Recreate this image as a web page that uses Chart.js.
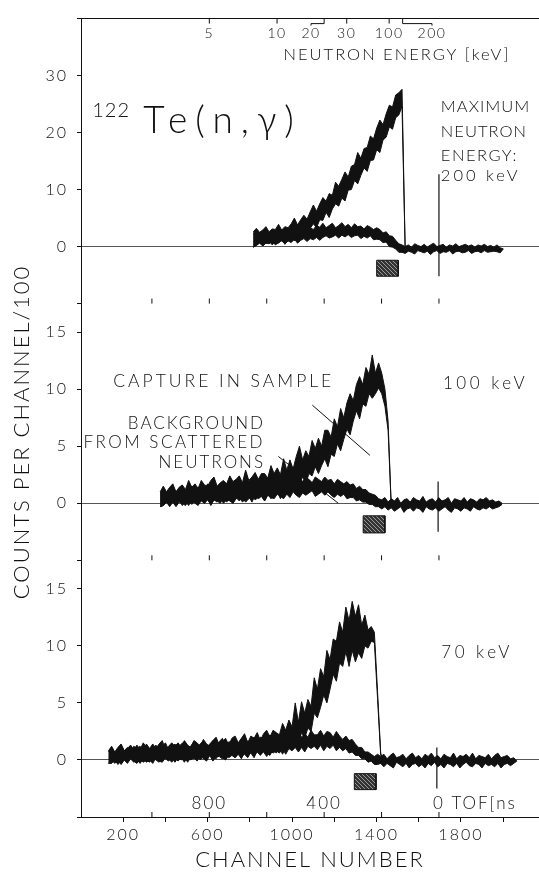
<!DOCTYPE html>
<html>
<head>
<meta charset="utf-8">
<script src="https://cdn.jsdelivr.net/npm/chart.js@4.4.1/dist/chart.umd.min.js"></script>
<style>
  html, body { margin: 0; padding: 0; background: #fff; }
  canvas { display: block; }
</style>
</head>
<body>
<canvas id="chart" width="539" height="873"></canvas>
<script>
// channel width of one stored bin; each bin keeps the top and bottom edge of the noisy band
var BIN = 15;

// 200 keV run
var topStart = 816;
var topSampleHi = [2.6, 3.2, 2.5, 2.9, 3.5, 2.6, 3.1, 3.0, 3.9, 2.9, 3.5, 3.3, 4.0, 5.0, 3.8, 4.7, 5.5, 4.8, 6.1, 7.3,
  6.2, 7.5, 8.6, 8.0, 9.3, 9.0, 11.3, 10.6, 11.8, 13.1, 12.2, 14.1, 14.4, 16.5, 15.5, 17.2, 17.4, 19.4, 18.9, 20.8,
  22.2, 21.4, 23.3, 24.8, 24.5, 26.6, 27.0, 27.6, -0.7];
var topSampleLo = [-0.1, 0.2, 0.7, 0.1, 0.6, 1.0, 0.3, 0.9, 0.6, 1.3, 0.4, 1.1, 1.6, 1.0, 2.0, 1.8, 2.9, 2.0, 3.2, 4.0,
  3.3, 4.7, 4.6, 6.0, 5.1, 6.6, 7.5, 7.1, 8.5, 8.0, 9.9, 10.0, 11.6, 11.0, 12.5, 13.8, 13.2, 15.1, 15.2, 17.0,
  16.5, 18.7, 19.2, 21.0, 20.6, 22.6, 23.1, 24.6, -0.7];
var topBackHi = [2.3, 2.8, 2.2, 2.6, 3.0, 2.3, 2.8, 2.7, 3.3, 2.6, 2.9, 3.2, 2.6, 3.5, 3.0, 3.3, 2.9, 3.8, 3.3, 3.0,
  3.7, 3.4, 4.1, 3.3, 3.7, 4.1, 3.3, 3.7, 4.2, 3.5, 3.9, 3.3, 4.0, 3.5, 3.6, 3.1, 3.7, 3.4, 3.0, 3.3,
  3.0, 2.4, 2.6, 1.9, 1.8, 1.1, 0.5, 0.3, 0.0, 0.3, -0.1, 0.5, 0.2, 0.0, 0.4, -0.1, 0.3, 0.6, 0.0, 0.2,
  0.4, -0.1, 0.3, 0.1, 0.5, 0.0, 0.2, 0.4, 0.1, 0.3, -0.1, 0.3, 0.1, 0.4, 0.0, 0.2, -0.1, 0.3, -0.2, -0.4];
var topBackLo = [-0.1, 0.2, 0.6, 0.2, 0.6, 0.5, 0.9, 0.3, 0.7, 1.0, 0.5, 1.0, 0.7, 1.3, 0.6, 1.1, 1.4, 0.9, 1.4, 1.2,
  1.6, 1.1, 1.6, 1.9, 1.5, 1.7, 2.0, 1.5, 2.0, 1.7, 2.1, 1.6, 1.9, 2.0, 1.4, 1.8, 1.5, 1.9, 1.2, 1.3,
  1.2, 0.7, 0.8, 0.0, -0.1, -0.4, -1.0, -1.0, -1.2, -0.8, -1.0, -1.3, -0.7, -0.9, -1.1, -0.8, -1.4, -0.9, -0.7, -1.2,
  -0.9, -1.0, -0.7, -1.3, -0.9, -0.8, -1.1, -1.0, -0.7, -1.2, -0.9, -0.8, -1.1, -0.7, -1.0, -0.9, -0.8, -0.9, -1.1, -0.4];

// 100 keV run
var midStart = 375;
var midSampleHi = [1.0, 1.5, 1.0, 1.4, 1.7, 1.0, 1.4, 1.6, 1.2, 2.0, 1.4, 1.7, 1.3, 2.0, 1.6, 1.5, 2.0, 2.3, 1.5, 1.8,
  2.0, 1.7, 2.4, 1.9, 2.1, 2.4, 1.8, 2.9, 2.0, 2.3, 2.7, 2.1, 2.6, 2.6, 2.2, 3.3, 2.6, 3.1, 2.5, 3.9,
  2.9, 3.8, 3.0, 4.1, 5.0, 3.8, 4.6, 4.1, 5.5, 4.8, 5.7, 5.0, 6.4, 6.4, 5.8, 7.4, 6.7, 8.3, 7.5, 8.8,
  9.6, 9.0, 10.4, 11.1, 10.4, 11.9, 11.3, 13.0, 11.4, 12.3, 11.4, 10.0, 7.2, -0.3];
var midSampleLo = [-0.3, -0.2, 0.1, -0.3, 0.1, -0.1, 0.3, -0.2, 0.2, -0.2, 0.3, 0.0, -0.2, 0.3, 0.0, 0.4, -0.2, 0.3, 0.2, 0.0,
  0.5, 0.1, 0.4, 0.0, 0.4, 0.6, 0.1, 0.4, 0.6, 0.1, 0.7, 0.4, 0.6, 0.2, 0.8, 0.4, 0.7, 1.0, 0.4, 1.1,
  0.8, 1.2, 1.8, 1.2, 1.7, 2.3, 1.7, 2.6, 2.4, 3.2, 2.6, 3.3, 3.9, 3.2, 4.3, 4.1, 5.2, 4.6, 5.6, 6.5,
  6.0, 7.2, 8.1, 7.4, 8.7, 8.5, 9.6, 9.2, 9.6, 10.1, 9.6, 8.5, 6.4, -0.3];
var midBackHi = [0.9, 1.2, 0.9, 1.2, 1.4, 1.0, 1.2, 1.4, 1.0, 1.3, 1.5, 1.1, 1.3, 1.5, 1.2, 1.7, 1.2, 1.4, 1.5, 1.1,
  1.6, 1.5, 1.3, 1.8, 1.4, 1.6, 1.8, 1.3, 1.7, 1.9, 1.5, 1.7, 2.0, 1.6, 1.9, 1.7, 2.0, 1.6, 1.9, 2.1,
  1.8, 2.2, 1.7, 2.0, 2.3, 1.9, 2.2, 2.1, 1.8, 2.3, 2.1, 1.9, 2.3, 2.0, 2.1, 1.7, 2.1, 1.9, 1.7, 1.9,
  1.6, 1.7, 1.3, 1.5, 1.2, 1.2, 0.9, 0.8, 0.7, 0.4, 0.3, 0.5, 0.1, 0.4, 0.2, 0.5, 0.0, 0.3, 0.4, 0.1,
  0.5, 0.3, 0.2, 0.6, 0.1, 0.3, 0.4, 0.1, 0.5, 0.2, 0.3, 0.5, 0.0, 0.4, 0.3, 0.2, 0.5, 0.1, 0.4, 0.3,
  0.1, 0.4, 0.3, 0.5, 0.2, 0.3, 0.1, 0.2, 0.0];
var midBackLo = [-0.3, -0.2, 0.1, -0.2, 0.1, -0.3, 0.1, 0.0, -0.2, 0.2, -0.1, 0.2, -0.1, 0.2, 0.0, 0.3, -0.1, 0.3, 0.1, 0.4,
  0.0, 0.3, 0.2, 0.0, 0.5, 0.2, 0.5, 0.1, 0.4, 0.6, 0.3, 0.5, 0.7, 0.2, 0.7, 0.5, 0.4, 0.8, 0.6, 0.4,
  0.8, 0.5, 1.0, 0.7, 0.5, 0.9, 0.7, 0.9, 1.1, 0.6, 0.8, 1.0, 0.7, 1.0, 0.7, 0.5, 0.8, 0.6, 0.8, 0.4,
  0.5, 0.5, 0.2, 0.3, 0.1, 0.1, -0.1, -0.1, -0.3, -0.3, -0.5, -0.3, -0.6, -0.4, -0.7, -0.5, -0.3, -0.8, -0.5, -0.4,
  -0.7, -0.4, -0.5, -0.8, -0.3, -0.5, -0.6, -0.4, -0.7, -0.5, -0.3, -0.6, -0.8, -0.4, -0.5, -0.7, -0.4, -0.5, -0.7, -0.3,
  -0.5, -0.6, -0.4, -0.5, -0.3, -0.5, -0.4, -0.3, -0.1];

// 70 keV run
var botStart = 130;
var botSampleHi = [0.8, 1.2, 0.7, 1.1, 1.4, 0.8, 1.0, 1.3, 0.9, 1.3, 0.9, 1.5, 1.1, 1.0, 1.4, 1.0, 1.4, 1.7, 0.9, 1.2,
  1.5, 1.2, 1.5, 1.1, 1.7, 1.3, 1.1, 1.7, 1.5, 1.2, 1.8, 1.4, 1.2, 1.7, 2.0, 1.3, 1.6, 1.9, 1.3, 1.9,
  2.1, 1.5, 1.9, 2.3, 1.5, 2.1, 1.9, 2.4, 1.7, 2.3, 2.6, 2.0, 2.6, 2.4, 2.2, 3.2, 2.6, 3.5, 2.9, 5.0,
  3.3, 5.1, 4.1, 5.3, 4.7, 7.2, 6.2, 8.0, 7.3, 9.6, 8.8, 10.6, 10.4, 12.1, 11.2, 13.4, 12.2, 13.9, 12.6, 13.6,
  11.8, 12.7, 11.4, 11.7, 11.2, 6.0, 0.6, -0.3];
var botSampleLo = [-0.3, 0.0, -0.3, 0.0, -0.4, 0.0, -0.2, 0.2, -0.1, -0.3, 0.1, -0.2, 0.0, -0.2, 0.2, 0.0, -0.2, 0.2, 0.1, -0.1,
  0.2, -0.2, 0.2, 0.0, 0.3, -0.2, 0.2, 0.1, 0.3, 0.0, 0.3, 0.1, 0.4, -0.1, 0.3, 0.3, 0.1, 0.5, 0.2, 0.4,
  0.2, 0.6, 0.3, 0.5, 0.2, 0.7, 0.4, 0.7, 0.4, 0.8, 0.6, 0.4, 0.9, 0.6, 1.1, 0.5, 1.1, 1.1, 0.9, 1.8,
  1.4, 2.4, 1.9, 2.8, 2.5, 4.1, 3.7, 4.6, 5.7, 5.0, 6.2, 7.5, 6.9, 8.5, 8.2, 9.5, 8.2, 9.6, 8.6, 9.4,
  8.9, 10.0, 9.8, 10.4, 10.3, 5.4, 0.4, -0.3];
var botBackHi = [0.7, 1.1, 0.6, 1.0, 1.3, 0.8, 1.1, 0.7, 1.2, 1.0, 1.2, 0.8, 1.4, 1.0, 0.9, 1.3, 0.9, 1.2, 1.5, 0.9,
  1.1, 1.4, 1.0, 1.4, 1.6, 1.1, 1.2, 1.6, 1.1, 1.4, 1.7, 1.1, 1.4, 1.7, 1.3, 1.6, 1.9, 1.3, 1.6, 1.5,
  1.9, 1.4, 1.8, 2.0, 1.6, 1.7, 2.0, 1.5, 2.0, 1.9, 1.6, 2.2, 1.9, 1.8, 2.2, 1.7, 2.2, 2.4, 1.8, 2.0,
  2.4, 2.0, 2.3, 2.0, 2.6, 2.2, 2.2, 2.6, 2.1, 2.5, 2.4, 2.0, 2.5, 2.1, 1.8, 2.1, 1.7, 1.8, 1.4, 1.1,
  1.1, 0.7, 0.7, 0.5, 0.3, 0.5, 0.3, 0.5, 0.1, 0.4, 0.6, 0.2, 0.3, 0.5, 0.1, 0.4, 0.6, 0.2, 0.4, 0.1,
  0.5, 0.3, 0.6, 0.2, 0.4, 0.1, 0.5, 0.3, 0.2, 0.6, 0.1, 0.4, 0.3, 0.5, 0.2, 0.6, 0.1, 0.4, 0.3, 0.2,
  0.5, 0.1, 0.4, 0.6, 0.2, 0.3, 0.4, 0.1, 0.2, -0.1];
var botBackLo = [-0.3, -0.3, 0.0, -0.4, -0.1, 0.0, -0.3, 0.1, -0.2, 0.0, -0.3, 0.1, -0.2, 0.0, -0.3, 0.2, -0.1, -0.2, 0.2, 0.1,
  -0.2, 0.2, -0.1, 0.2, -0.2, 0.3, 0.0, 0.2, -0.1, 0.4, 0.1, -0.1, 0.4, 0.3, 0.1, 0.5, 0.2, 0.0, 0.4, 0.6,
  0.2, 0.5, 0.1, 0.7, 0.4, 0.6, 0.2, 0.8, 0.5, 0.7, 0.3, 0.9, 0.6, 0.8, 0.6, 1.0, 0.5, 1.0, 0.8, 1.1,
  0.7, 1.1, 0.7, 1.2, 1.0, 1.2, 0.9, 1.3, 0.8, 1.2, 1.0, 1.3, 0.8, 1.1, 0.8, 1.0, 0.6, 0.7, 0.4, 0.4,
  0.1, 0.1, -0.2, -0.1, -0.4, -0.4, -0.3, -0.6, -0.3, -0.5, -0.7, -0.2, -0.4, -0.6, -0.3, -0.7, -0.4, -0.3, -0.6, -0.4,
  -0.7, -0.3, -0.5, -0.2, -0.6, -0.4, -0.7, -0.3, -0.4, -0.6, -0.3, -0.7, -0.4, -0.2, -0.5, -0.6, -0.3, -0.4, -0.7, -0.3,
  -0.5, -0.4, -0.6, -0.3, -0.7, -0.4, -0.3, -0.5, -0.3, -0.1];

// gamma flash at zero flight time, one per run (top, middle, bottom)
var flashCh = [1696, 1692, 1686];
var flashHigh = [12.7, 1.9, 1.1];
var flashLow = [-5.2, -2.5, -2.5];

// shaded sample-position markers
var markFrom = [1401, 1337, 1295];
var markTo = [1503, 1440, 1398];
var markHigh = [-2.4, -1.1, -1.2];
var markLow = [-5.2, -2.6, -2.6];

// axes
var channelTicks = [200, 400, 600, 800, 1000, 1200, 1400, 1600, 1800, 2000];
var energyLabels = ['5', '10', '20', '30', '100', '200'];
var energyCh = [608, 929, 1152, 1259, 1460, 1524];
var tofNs = [0, 200, 400, 600, 800, 1000];
var tofCh = [1696, 1424, 1152, 880, 608, 336];

var panels = ['yTop', 'yMid', 'yBot'];
var FONT = 'Lato, "DejaVu Sans", sans-serif';
var INK = '#111';

function series(start, values) {
    return values.map(function (v, i) { return { x: start + BIN * i, y: v }; });
}

function trace(data, axis) {
    return { data: data, yAxisID: axis, borderColor: INK, borderWidth: 1,
        pointRadius: 0, tension: 0, fill: false };
}

// upper edge filled down to the lower edge, so the noise reads as a solid band
function band(start, hi, lo, axis) {
    var upper = trace(series(start, hi), axis);
    upper.fill = '+1';
    upper.backgroundColor = INK;
    return [upper, trace(series(start, lo), axis)];
}

function makeHatch() {
    var c = document.createElement('canvas');
    c.width = 4; c.height = 4;
    var g = c.getContext('2d');
    g.fillStyle = '#333';
    g.fillRect(0, 0, 4, 4);
    g.strokeStyle = '#9a9a9a';
    g.lineWidth = 1;
    g.beginPath();
    g.moveTo(0, 0); g.lineTo(4, 4);
    g.stroke();
    return g.createPattern(c, 'repeat');
}

var hatch = makeHatch();

var datasets = [].concat(
    band(topStart, topSampleHi, topSampleLo, 'yTop'),
    band(topStart, topBackHi, topBackLo, 'yTop'),
    band(midStart, midSampleHi, midSampleLo, 'yMid'),
    band(midStart, midBackHi, midBackLo, 'yMid'),
    band(botStart, botSampleHi, botSampleLo, 'yBot'),
    band(botStart, botBackHi, botBackLo, 'yBot')
);

panels.forEach(function (axis, i) {
    var flash = trace([{ x: flashCh[i], y: flashLow[i] }, { x: flashCh[i], y: flashHigh[i] }], axis);
    flash.borderWidth = 1.2;
    datasets.push(flash);

    var box = trace([
        { x: markFrom[i], y: markLow[i] }, { x: markFrom[i], y: markHigh[i] },
        { x: markTo[i], y: markHigh[i] }, { x: markTo[i], y: markLow[i] },
        { x: markFrom[i], y: markLow[i] }
    ], axis);
    box.fill = 'shape';
    box.backgroundColor = hatch;
    datasets.push(box);
});

// text placed in data coordinates of each panel
var notes = [
    { axis: 'yTop', x: 53, y: 22.8, text: '122', size: 20, spacing: 1 },
    { axis: 'yTop', x: 295, y: 20.0, text: 'Te(n,\u03b3)', size: 37, spacing: 8 },
    { axis: 'yTop', x: 1705, y: 23.7, text: 'MAXIMUM', size: 16.5, spacing: 1 },
    { axis: 'yTop', x: 1705, y: 19.3, text: 'NEUTRON', size: 16.5, spacing: 1 },
    { axis: 'yTop', x: 1705, y: 15.0, text: 'ENERGY:', size: 16.5, spacing: 1.5 },
    { axis: 'yTop', x: 1705, y: 11.5, text: '200 keV', size: 16.5, spacing: 3 },
    { axis: 'yTop', x: 1497, y: 32.75, text: 'NEUTRON ENERGY [keV]', size: 16.5, align: 'center' },
    { axis: 'yMid', x: 153, y: 10.2, text: 'CAPTURE IN SAMPLE', size: 17.5, spacing: 3 },
    { axis: 'yMid', x: 872, y: 6.5, text: 'BACKGROUND', size: 17, align: 'right' },
    { axis: 'yMid', x: 872, y: 4.8, text: 'FROM SCATTERED', size: 17, align: 'right', spacing: 2.5 },
    { axis: 'yMid', x: 872, y: 3.1, text: 'NEUTRONS', size: 17, align: 'right' },
    { axis: 'yMid', x: 1715, y: 10.0, text: '100 keV', size: 17, spacing: 3.5 },
    { axis: 'yBot', x: 1707, y: 8.9, text: '70 keV', size: 17, spacing: 3.5 }
];

var pointers = [
    { axis: 'yMid', from: [1096, 8.6], to: [1369, 4.2] },
    { axis: 'yMid', from: [935, 4.1], to: [1219, 0.0] }
];

var decorations = {
    id: 'decorations',
    beforeDraw: function (chart) {
        chart.ctx.letterSpacing = '2px';
    },
    afterDatasetsDraw: function (chart) {
        var ctx = chart.ctx;
        var sx = chart.scales.x;
        var area = chart.chartArea;
        ctx.save();
        ctx.fillStyle = INK;
        ctx.strokeStyle = INK;
        ctx.lineWidth = 1;

        notes.forEach(function (n) {
            ctx.font = '300 ' + n.size + 'px ' + FONT;
            ctx.letterSpacing = (n.spacing === undefined ? 2 : n.spacing) + 'px';
            ctx.textAlign = n.align || 'left';
            ctx.textBaseline = 'alphabetic';
            ctx.fillText(n.text, sx.getPixelForValue(n.x), chart.scales[n.axis].getPixelForValue(n.y));
        });

        pointers.forEach(function (p) {
            var sy = chart.scales[p.axis];
            ctx.beginPath();
            ctx.moveTo(sx.getPixelForValue(p.from[0]), sy.getPixelForValue(p.from[1]));
            ctx.lineTo(sx.getPixelForValue(p.to[0]), sy.getPixelForValue(p.to[1]));
            ctx.stroke();
        });

        // neutron energy scale hanging from the top frame
        var top = area.top;
        var shift = [0, 0, -62, 0, 0, 139];
        ctx.font = '300 14px ' + FONT;
        ctx.letterSpacing = '1.5px';
        ctx.textAlign = 'center';
        energyCh.forEach(function (ch, i) {
            var xt = sx.getPixelForValue(ch);
            var xl = sx.getPixelForValue(ch + shift[i]);
            ctx.beginPath();
            ctx.moveTo(xt, top);
            ctx.lineTo(xt, top + 5);
            if (shift[i]) {
                ctx.lineTo(xl, top + 5);
                ctx.lineTo(xl, top + 7);
            }
            ctx.stroke();
            ctx.fillText(energyLabels[i], xl, chart.scales.yTop.getPixelForValue(36.6));
        });

        // time-of-flight ticks on every panel floor, labels in the bottom panel
        var floors = [chart.scales.yTop.bottom, chart.scales.yMid.bottom, area.bottom];
        tofCh.forEach(function (ch) {
            var xt = sx.getPixelForValue(ch);
            floors.forEach(function (y) {
                ctx.beginPath();
                ctx.moveTo(xt, y);
                ctx.lineTo(xt, y - 5);
                ctx.stroke();
            });
        });
        ctx.font = '300 17px ' + FONT;
        ctx.letterSpacing = '2px';
        var yl = chart.scales.yBot.getPixelForValue(-4.3);
        tofNs.forEach(function (ns, i) {
            if (ns % 400 !== 0) return;
            var xt = sx.getPixelForValue(tofCh[i]);
            if (ns === 0) {
                ctx.textAlign = 'left';
                ctx.fillText('0 TOF[ns', xt - 6, yl);
            } else {
                ctx.textAlign = 'center';
                ctx.fillText(String(ns), xt, yl);
            }
        });
        ctx.restore();
    }
};

function panelAxis(min, max, step, labelEvery, weight) {
    return {
        type: 'linear',
        position: 'left',
        stack: 'panels',
        stackWeight: weight,
        min: min,
        max: max,
        border: { display: true, color: INK, width: 1 },
        grid: {
            drawOnChartArea: true,
            drawTicks: true,
            tickLength: 4,
            tickColor: INK,
            color: function (c) {
                if (c.tick.value === 0) return '#555';
                if (c.tick.value === max) return INK;
                return 'rgba(0,0,0,0)';
            }
        },
        ticks: {
            stepSize: step,
            padding: 9,
            color: INK,
            font: { family: FONT, size: 16, weight: 300 },
            callback: function (v) {
                return (v >= 0 && v < max && v % labelEvery === 0) ? String(v) : '';
            }
        },
        afterFit: function (scale) { scale.width = 81; }
    };
}

var yTop = panelAxis(-10, 40, 5, 10, 287);
var yMid = panelAxis(-5, 17.5, 2.5, 5, 258.5);
var yBot = panelAxis(-5, 17.5, 2.5, 5, 258.5);
yMid.title = {
    display: true,
    text: 'COUNTS PER CHANNEL/100',
    color: INK,
    font: { family: FONT, size: 22, weight: 300 },
    padding: { top: 9, bottom: 0 }
};

var chart = new Chart(document.getElementById('chart'), {
    type: 'line',
    data: { datasets: datasets },
    plugins: [decorations],
    options: {
        responsive: false,
        animation: false,
        devicePixelRatio: 1,
        layout: { padding: { top: 13, right: 0, left: 0, bottom: 0 } },
        plugins: { legend: { display: false }, tooltip: { enabled: false } },
        scales: {
            x: {
                type: 'linear',
                min: 0,
                max: 2170,
                border: { display: true, color: INK, width: 1 },
                grid: { drawOnChartArea: false, tickLength: 5, tickColor: INK },
                afterBuildTicks: function (axis) {
                    axis.ticks = channelTicks.map(function (v) { return { value: v }; });
                },
                ticks: {
                    autoSkip: false,
                    maxRotation: 0,
                    padding: 3,
                    color: INK,
                    font: { family: FONT, size: 16, weight: 300 },
                    callback: function (v) {
                        return (v - 200) % 400 === 0 ? String(v) : '';
                    }
                },
                title: {
                    display: true,
                    text: 'CHANNEL NUMBER',
                    color: INK,
                    font: { family: FONT, size: 22, weight: 300 },
                    padding: { top: 0, bottom: 0 }
                },
                afterFit: function (scale) { scale.height = 56; }
            },
            yBot: yBot,
            yMid: yMid,
            yTop: yTop
        }
    }
});
</script>
</body>
</html>
